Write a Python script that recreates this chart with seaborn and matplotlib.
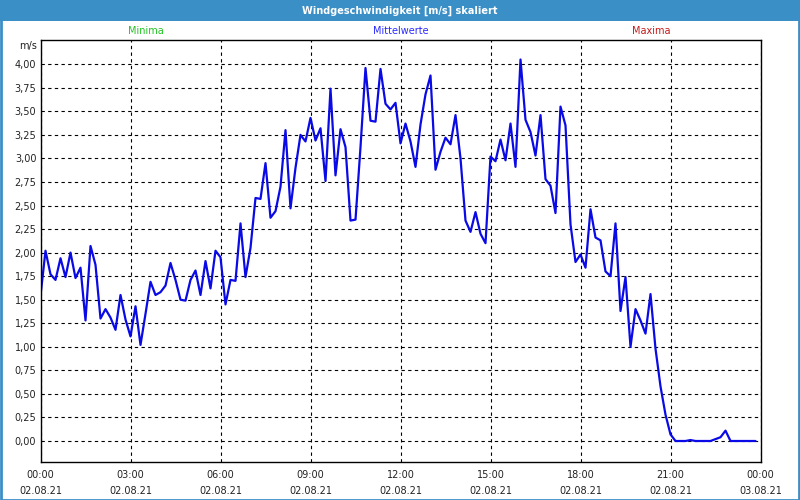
import numpy as np
import pandas as pd
import matplotlib.pyplot as plt
import seaborn as sns
from matplotlib.patches import Rectangle
from matplotlib.ticker import FixedLocator, MultipleLocator, FuncFormatter

# 10-minute mean wind speed [m/s], 02.08.21 00:00 - 23:50
wind_ms = [
    1.54, 2.02, 1.77, 1.71, 1.94, 1.74, 2.00, 1.73, 1.84, 1.28, 2.07, 1.87,
    1.30, 1.40, 1.31, 1.18, 1.55, 1.29, 1.11, 1.43, 1.02, 1.35, 1.69, 1.55,
    1.58, 1.65, 1.89, 1.71, 1.50, 1.49, 1.71, 1.81, 1.55, 1.91, 1.62, 2.02,
    1.95, 1.45, 1.71, 1.70, 2.31, 1.74, 2.05, 2.58, 2.57, 2.95, 2.37, 2.44,
    2.70, 3.30, 2.47, 2.90, 3.25, 3.18, 3.43, 3.19, 3.32, 2.76, 3.74, 2.82,
    3.31, 3.12, 2.34, 2.35, 3.12, 3.96, 3.40, 3.39, 3.95, 3.58, 3.52, 3.59,
    3.16, 3.37, 3.18, 2.91, 3.36, 3.68, 3.88, 2.88, 3.07, 3.22, 3.15, 3.46,
    3.00, 2.34, 2.22, 2.43, 2.20, 2.10, 3.02, 2.97, 3.20, 2.98, 3.37, 2.91,
    4.05, 3.41, 3.28, 3.03, 3.46, 2.78, 2.71, 2.42, 3.55, 3.35, 2.30, 1.90,
    1.98, 1.84, 2.46, 2.16, 2.13, 1.80, 1.75, 2.31, 1.38, 1.74, 1.00, 1.40,
    1.28, 1.14, 1.56, 0.98, 0.58, 0.28, 0.07, 0.00, 0.00, 0.00, 0.01, 0.00,
    0.00, 0.00, 0.00, 0.02, 0.04, 0.11, 0.00, 0.00, 0.00, 0.00, 0.00, 0.00,
]
step_minutes = 10

tick_hours = [0, 3, 6, 9, 12, 15, 18, 21, 24]
tick_times = ["00:00", "03:00", "06:00", "09:00", "12:00", "15:00", "18:00", "21:00", "00:00"]
tick_dates = ["02.08.21"] * 8 + ["03.08.21"]

series_names = ["Minima", "Mittelwerte", "Maxima"]
series_colors = ["#22c322", "#2a2aff", "#c41a1a"]

title = "Windgeschwindigkeit [m/s] skaliert"
unit = "m/s"

df = pd.DataFrame({
    "hour": np.arange(len(wind_ms)) * step_minutes / 60,
    "speed": wind_ms,
})

sns.set_style("white")
plt.rcParams["font.family"] = ["DejaVu Sans"]

W, H = 800, 500
fig = plt.figure(figsize=(8, 5), dpi=100)
fig.patch.set_facecolor("white")

# title bar + window frame
fig.patches.append(Rectangle((0, 1 - 21 / H), 1, 21 / H, transform=fig.transFigure,
                             facecolor="#3b8fc7", edgecolor="none", zorder=0))
fig.patches.append(Rectangle((0.5 / W, 0.5 / H), 1 - 1.5 / W, 1 - 1.5 / H,
                             transform=fig.transFigure, facecolor="none",
                             edgecolor="#3b8fc7", linewidth=2, zorder=1))
fig.text(0.5, 1 - 10.5 / H, title, color="white", fontweight="bold",
         fontsize=7, ha="center", va="center")

ax = fig.add_axes([40.5 / W, 38 / H, 720 / W, 422 / H])
sns.lineplot(data=df, x="hour", y="speed", ax=ax, color="#0a0ae6", linewidth=1.6)

ax.set_xlim(0, 24)
ax.set_ylim(-0.223, 4.257)
ax.set_xlabel("")
ax.set_ylabel("")

ax.yaxis.set_major_locator(FixedLocator(np.arange(0, 4.01, 0.25)))
ax.yaxis.set_major_formatter(FuncFormatter(lambda v, p: f"{v:.2f}".replace(".", ",")))
ax.xaxis.set_major_locator(FixedLocator(tick_hours))
ax.xaxis.set_minor_locator(MultipleLocator(1))
ax.set_xticklabels([f"{t}\n{d}" for t, d in zip(tick_times, tick_dates)])
for lbl in ax.get_xticklabels():
    lbl.set_linespacing(1.65)

ax.tick_params(axis="y", length=0, pad=3, labelsize=7, colors="#222222")
ax.tick_params(axis="x", which="major", length=4, width=0.8, pad=2,
               labelsize=7, color="black", labelcolor="#222222", direction="out")
ax.tick_params(axis="x", which="minor", length=2.5, width=0.8, color="black", direction="out")

ax.grid(True, which="major", color="black", linestyle=(0, (3, 3)), linewidth=0.8)
for s in ax.spines.values():
    s.set_color("black")
    s.set_linewidth(1)

# series captions above the plot
for name, col, xpix in zip(series_names, series_colors, [146, 401, 651]):
    fig.text(xpix / W, 1 - 31 / H, name, color=col, fontsize=7, ha="center", va="center")
fig.text(37 / W, 1 - 46 / H, unit, color="#222222", fontsize=7, ha="right", va="center")

fig.savefig("out.png", dpi=100)
